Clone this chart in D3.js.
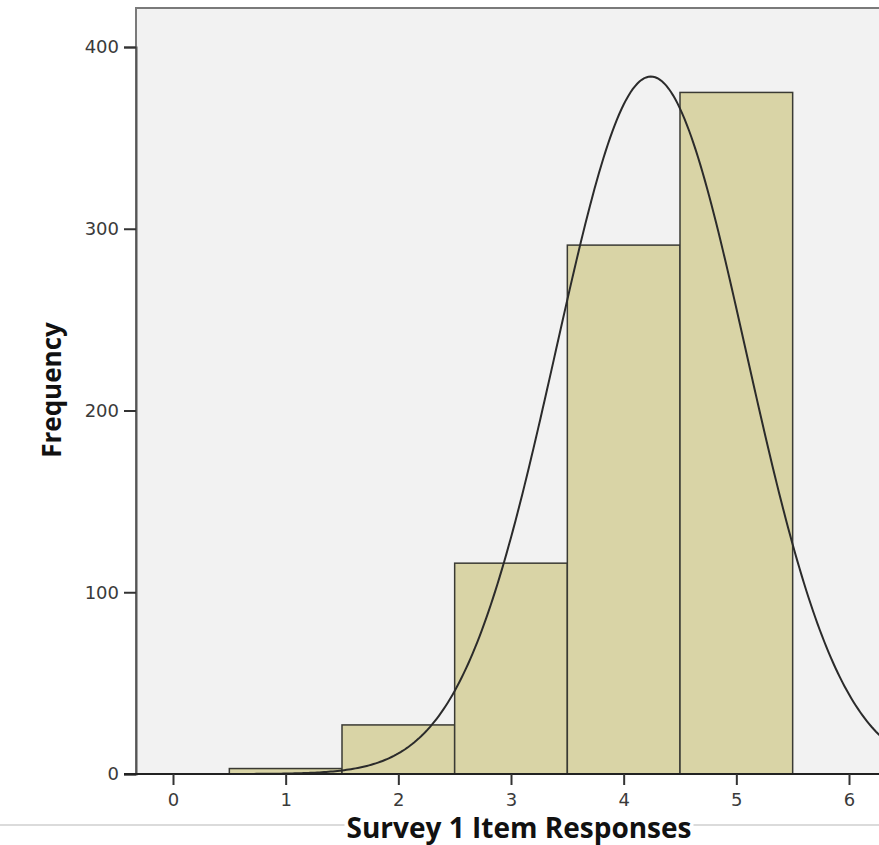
<!DOCTYPE html>
<html lang="en">
<head>
  <meta charset="UTF-8">
  <title>Survey 1 Item Responses</title>
  <script src="https://d3js.org/d3.v7.min.js"></script>
  <style>
    body { margin: 0; background: #fff; }
    .tick text { font-family: "DejaVu Sans", sans-serif; font-size: 18px; fill: #3a3a3a; }
    .axis-title { font-family: "Open Sans", sans-serif; font-weight: bold; fill: #111; }
  </style>
</head>
<body>
<div id="chart"></div>
<script>
// histogram bins (midpoint value) and counts
const binMids = [1, 2, 3, 4, 5];
const counts = [3, 27, 116, 291, 375];
const xTicks = [0, 1, 2, 3, 4, 5, 6];
const yTicks = [0, 100, 200, 300, 400];

const W = 879, H = 845;
const svg = d3.select("#chart").append("svg").attr("width", W).attr("height", H);

const plotLeft = 136, plotTop = 8, plotBottom = 774;
const x = d3.scaleLinear().domain([0, 6]).range([173, 849]);
const y = d3.scaleLinear().domain([0, 400]).range([plotBottom, 47]);

// plot background
svg.append("rect")
  .attr("x", plotLeft).attr("y", plotTop)
  .attr("width", W - plotLeft + 5).attr("height", plotBottom - plotTop)
  .attr("fill", "#f2f2f2").attr("stroke", "#7a7a7a").attr("stroke-width", 2);

// bars
svg.selectAll(".bar")
  .data(binMids.map((m, i) => ({ m, c: counts[i] })))
  .enter().append("rect")
  .attr("class", "bar")
  .attr("x", d => x(d.m - 0.5))
  .attr("y", d => y(d.c))
  .attr("width", x(1) - x(0))
  .attr("height", d => plotBottom - y(d.c))
  .attr("fill", "#d9d4a6")
  .attr("stroke", "#3a3a34")
  .attr("stroke-width", 1.5);

// fitted normal curve from the bins
const n = d3.sum(counts);
const mean = d3.sum(binMids, (m, i) => m * counts[i]) / n;
const sd = Math.sqrt(d3.sum(binMids, (m, i) => counts[i] * (m - mean) ** 2) / n);
const curveX = d3.range(-0.3, 6.4, 0.02);
const dens = v => n / (sd * Math.sqrt(2 * Math.PI)) * Math.exp(-((v - mean) ** 2) / (2 * sd * sd));
svg.append("path")
  .datum(curveX)
  .attr("fill", "none")
  .attr("stroke", "#2b2b2b")
  .attr("stroke-width", 2)
  .attr("d", d3.line().x(v => x(v)).y(v => y(dens(v))));

// y axis
const yAxis = svg.append("g")
  .attr("transform", `translate(${plotLeft},0)`)
  .call(d3.axisLeft(y).tickValues(yTicks).tickSize(12).tickPadding(5).tickFormat(d3.format("d")));
yAxis.select(".domain").attr("stroke", "#555").attr("stroke-width", 2);
yAxis.selectAll(".tick line").attr("stroke", "#333").attr("stroke-width", 2);

// x axis
svg.append("line")
  .attr("x1", 124).attr("x2", W).attr("y1", plotBottom).attr("y2", plotBottom)
  .attr("stroke", "#222").attr("stroke-width", 2);
const xAxis = svg.append("g")
  .attr("transform", `translate(0,${plotBottom})`)
  .call(d3.axisBottom(x).tickValues(xTicks).tickSize(11).tickPadding(8).tickFormat(d3.format("d")));
xAxis.select(".domain").remove();
xAxis.selectAll(".tick line").attr("stroke", "#333").attr("stroke-width", 2);

// separator line under chart
svg.append("line")
  .attr("x1", 0).attr("x2", W).attr("y1", 825).attr("y2", 825)
  .attr("stroke", "#cfcfcf").attr("stroke-width", 1.5);

// titles
const xt = svg.append("text")
  .attr("class", "axis-title")
  .attr("x", 519).attr("y", 838)
  .attr("font-size", 28)
  .attr("text-anchor", "middle")
  .text("Survey 1 Item Responses");
const bb = xt.node().getBBox();
svg.insert("rect", "text.axis-title")
  .attr("x", bb.x - 2).attr("y", bb.y).attr("width", bb.width + 4).attr("height", bb.height)
  .attr("fill", "#fff");

svg.append("text")
  .attr("class", "axis-title")
  .attr("transform", "translate(61,390) rotate(-90)")
  .attr("font-size", 26)
  .attr("text-anchor", "middle")
  .text("Frequency");
</script>
</body>
</html>
